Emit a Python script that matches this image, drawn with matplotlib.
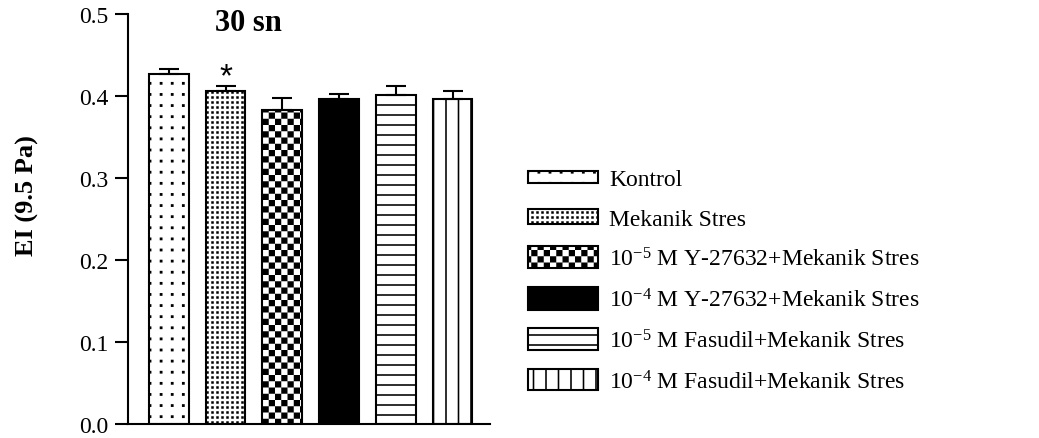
import numpy as np
import matplotlib
matplotlib.use("Agg")
import matplotlib.pyplot as plt
import matplotlib.hatch as mhatch
from matplotlib.path import Path
from matplotlib.patches import Rectangle
from matplotlib.legend_handler import HandlerPatch
from matplotlib.ticker import FormatStrFormatter

# ---- data -------------------------------------------------------------
groups = [
    "Kontrol",
    "Mekanik Stres",
    r"10$^{\mathrm{-5}}$ M Y-27632+Mekanik Stres",
    r"10$^{\mathrm{-4}}$ M Y-27632+Mekanik Stres",
    r"10$^{\mathrm{-5}}$ M Fasudil+Mekanik Stres",
    r"10$^{\mathrm{-4}}$ M Fasudil+Mekanik Stres",
]
ei_mean = [0.427, 0.406, 0.383, 0.396, 0.401, 0.396]
ei_sem = [0.006, 0.006, 0.015, 0.007, 0.011, 0.010]
significant = [False, True, False, False, False, False]
panel_title = "30 sn"
y_label = "EI (9.5 Pa)"
y_ticks = [0.0, 0.1, 0.2, 0.3, 0.4, 0.5]

# ---- styles -----------------------------------------------------------
fill_patterns = [".", "..", "x", None, "-", "|"]
face_colors = ["white", "white", "white", "black", "white", "white"]
legend_box_heights = [8.6, 10.8, 15.8, 16.6, 15.8, 15.1]   # points


# ---- fill patterns: one 1x1 tile made of small filled rectangles -------
def _tile_rects(code):
    rects = []
    if code in (".", ".."):
        n, s = (9, 0.028) if code == "." else (20, 0.025)
        for i in range(n):
            for j in range(n):
                cx, cy = (i + 0.5) / n, (j + 0.5) / n
                rects.append((cx - s / 2, cy - s / 2, cx + s / 2, cy + s / 2))
    elif code == "x":
        n = 16
        for i in range(n):
            for j in range(n):
                if (i + j) % 2 == 0:
                    rects.append((i / n, j / n, (i + 1) / n, (j + 1) / n))
    elif code == "-":
        n, t = 10, 0.016
        for j in range(n):
            y = (j + 0.5) / n
            rects.append((0.0, y - t / 2, 1.0, y + t / 2))
    elif code == "|":
        n, t, phase = 8, 0.016, 0.68
        for i in range(n):
            x = ((i + phase) / n) % 1.0
            rects.append((x - t / 2, 0.0, x + t / 2, 1.0))
    return rects


class TilePattern(mhatch.HatchPatternBase):
    def __init__(self, hatch, density):
        self.rects = _tile_rects(hatch)
        self.num_vertices = 5 * len(self.rects)

    def set_vertices_and_codes(self, vertices, codes):
        k = 0
        for x0, y0, x1, y1 in self.rects:
            vertices[k:k + 5] = [(x0, y0), (x1, y0), (x1, y1), (x0, y1), (x0, y0)]
            codes[k:k + 5] = [Path.MOVETO, Path.LINETO, Path.LINETO,
                              Path.LINETO, Path.CLOSEPOLY]
            k += 5


mhatch._hatch_types = [TilePattern]

plt.rcParams["font.family"] = ["Liberation Serif", "DejaVu Serif"]
plt.rcParams["mathtext.fontset"] = "custom"
plt.rcParams["mathtext.rm"] = "Liberation Serif"
plt.rcParams["mathtext.it"] = "Liberation Serif:italic"
plt.rcParams["mathtext.bf"] = "Liberation Serif:bold"
plt.rcParams["hatch.linewidth"] = 0.0
plt.rcParams["hatch.color"] = "black"

W, H = 1039, 439
fig = plt.figure(figsize=(W / 100, H / 100), dpi=100)
ax = fig.add_axes([128 / W, 14 / H, (490 - 128) / W, 410 / H])

x = np.arange(len(groups))
bars = ax.bar(x, ei_mean, width=0.70, color=face_colors,
              edgecolor="black", linewidth=1.5, zorder=2)
for patch, pat in zip(bars.patches, fill_patterns):
    patch.set_hatch(pat)

ax.errorbar(x, ei_mean, yerr=[np.zeros(len(x)), ei_sem], fmt="none",
            ecolor="black", elinewidth=1.5, capsize=7.2, capthick=1.5,
            zorder=3)

for xi, m, e, sig in zip(x, ei_mean, ei_sem, significant):
    if sig:
        ax.text(xi, m + e + 0.012, "*", ha="center", va="center",
                fontsize=24, family="Liberation Sans", zorder=4)

ax.set_xlim(-0.72, 5.66)
ax.set_ylim(0, 0.5)
ax.set_xticks([])
ax.set_yticks(y_ticks)
ax.yaxis.set_major_formatter(FormatStrFormatter("%.1f"))
ax.tick_params(axis="y", direction="out", length=9.4, width=1.5,
               pad=5, labelsize=17)
for side in ("top", "right"):
    ax.spines[side].set_visible(False)
for side in ("left", "bottom"):
    ax.spines[side].set_linewidth(1.5)

ax.set_title(panel_title, x=(248 - 128) / 362, y=(425 - 32) / 410,
             va="center", ha="center", fontsize=22, fontweight="bold")
ax.set_ylabel(y_label, fontsize=19, fontweight="bold",
              va="center", ha="center")
ax.yaxis.set_label_coords((27 - 128) / 362, (425 - 196) / 410)


def _legend_box(legend, orig_handle, xdescent, ydescent, width, height,
                fontsize):
    h = legend_box_heights[bars.patches.index(orig_handle)]
    return Rectangle((-xdescent, -ydescent + height / 2 - h / 2), width, h)


ax.legend(bars.patches, groups, loc="center left",
          bbox_to_anchor=(528 / W, 1 - 282 / H),
          bbox_transform=fig.transFigure, frameon=False, fontsize=17,
          handlelength=2.97, handletextpad=0.47, labelspacing=0.75,
          borderpad=0, borderaxespad=0,
          handler_map={Rectangle: HandlerPatch(patch_func=_legend_box)})

fig.savefig("out.png", dpi=100)
